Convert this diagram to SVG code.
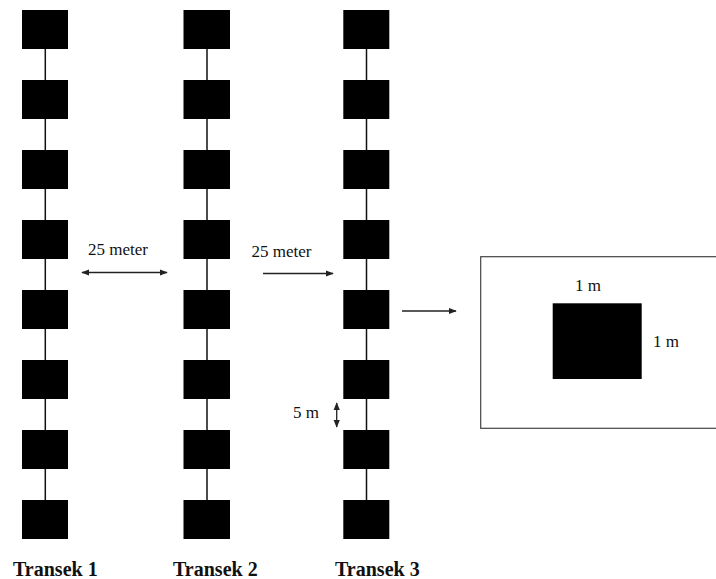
<svg xmlns="http://www.w3.org/2000/svg" width="716" height="579" viewBox="0 0 716 579">
<style>
.q{fill:#000}
.ln{stroke:#111;stroke-width:1.5;fill:none}
.ar{stroke:#222;stroke-width:1.3;fill:none}
.t{font-family:"Liberation Serif",serif;font-size:17px;fill:#111}
.b{font-family:"Liberation Serif",serif;font-size:20px;font-weight:bold;fill:#111}
</style>
<defs>
<marker id="ah" viewBox="0 0 10 10" refX="9" refY="5" markerWidth="8" markerHeight="8" markerUnits="userSpaceOnUse" orient="auto-start-reverse">
<path d="M0,1 L10,5 L0,9 Z" fill="#222"/>
</marker>
</defs>
<rect width="716" height="579" fill="#fff"/>
<g id="connectors">
<line class="ln" x1="45.3" y1="30" x2="45.3" y2="520"/>
<line class="ln" x1="207" y1="30" x2="207" y2="520"/>
<line class="ln" x1="366.5" y1="30" x2="366.5" y2="520"/>
<line class="ar" x1="82" y1="272.5" x2="167" y2="272.5" marker-start="url(#ah)" marker-end="url(#ah)"/>
<line class="ar" x1="263" y1="273.5" x2="333" y2="273.5" marker-end="url(#ah)"/>
<line class="ar" x1="336.7" y1="403" x2="336.7" y2="427" marker-start="url(#ah)" marker-end="url(#ah)"/>
<line class="ar" x1="402" y1="311" x2="456" y2="311" marker-end="url(#ah)"/>
</g>
<g id="transek1">
<rect class="q" x="22" y="10" width="46" height="39"/>
<rect class="q" x="22" y="80" width="46" height="39"/>
<rect class="q" x="22" y="150" width="46" height="39"/>
<rect class="q" x="22" y="220" width="46" height="39"/>
<rect class="q" x="22" y="290" width="46" height="39"/>
<rect class="q" x="22" y="360" width="46" height="39"/>
<rect class="q" x="22" y="430" width="46" height="39"/>
<rect class="q" x="22" y="500" width="46" height="39"/>
<text class="b" x="13" y="575.5">Transek 1</text>
</g>
<g id="transek2">
<rect class="q" x="183.5" y="10" width="46.5" height="39"/>
<rect class="q" x="183.5" y="80" width="46.5" height="39"/>
<rect class="q" x="183.5" y="150" width="46.5" height="39"/>
<rect class="q" x="183.5" y="220" width="46.5" height="39"/>
<rect class="q" x="183.5" y="290" width="46.5" height="39"/>
<rect class="q" x="183.5" y="360" width="46.5" height="39"/>
<rect class="q" x="183.5" y="430" width="46.5" height="39"/>
<rect class="q" x="183.5" y="500" width="46.5" height="39"/>
<text class="b" x="173" y="575.5">Transek 2</text>
</g>
<g id="transek3">
<rect class="q" x="343.3" y="10" width="46" height="39"/>
<rect class="q" x="343.3" y="80" width="46" height="39"/>
<rect class="q" x="343.3" y="150" width="46" height="39"/>
<rect class="q" x="343.3" y="220" width="46" height="39"/>
<rect class="q" x="343.3" y="290" width="46" height="39"/>
<rect class="q" x="343.3" y="360" width="46" height="39"/>
<rect class="q" x="343.3" y="430" width="46" height="39"/>
<rect class="q" x="343.3" y="500" width="46" height="39"/>
<text class="b" x="335" y="575.5">Transek 3</text>
</g>
<g id="labels">
<text class="t" x="88" y="255">25 meter</text>
<text class="t" x="251.5" y="256.7">25 meter</text>
<text class="t" x="293" y="417.5">5 m</text>
</g>
<g id="detail">
<rect x="480.7" y="256.7" width="245" height="171.6" fill="none" stroke="#444" stroke-width="1.2"/>
<rect class="q" x="552.7" y="303.3" width="89" height="75.7"/>
<text class="t" x="575" y="290.7">1 m</text>
<text class="t" x="653" y="346.7">1 m</text>
</g>
</svg>
